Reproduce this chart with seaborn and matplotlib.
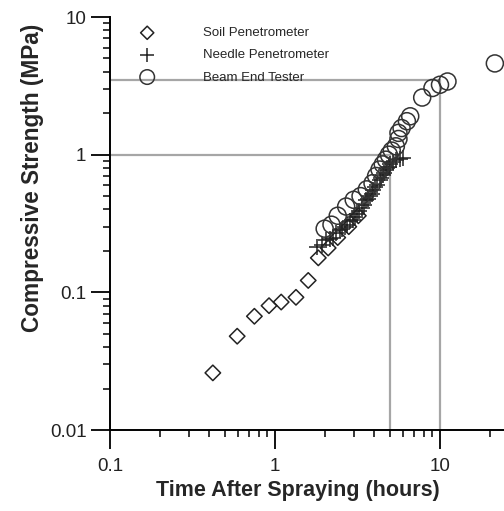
import numpy as np
import pandas as pd
import seaborn as sns
import matplotlib
matplotlib.use("Agg")
import matplotlib.pyplot as plt
from matplotlib.ticker import LogLocator, FuncFormatter, NullFormatter

# ---- data ----
soil_x = [0.42, 0.59, 0.75, 0.92, 1.09, 1.34, 1.59, 1.83, 2.1, 2.4, 2.8, 3.2]
soil_y = [0.026, 0.048, 0.067, 0.080, 0.085, 0.092, 0.122, 0.178, 0.21, 0.25, 0.30, 0.36]

needle_x = [1.80, 1.92, 2.05, 2.15, 2.25, 2.35, 2.47, 2.55, 2.65, 2.75, 2.85, 2.97,
            3.05, 3.15, 3.25, 3.35, 3.45, 3.58, 3.65, 3.75, 3.85, 3.95, 4.05, 4.15,
            4.30, 4.40, 4.50, 4.60, 4.70, 4.80, 4.90, 5.00, 5.20, 5.40, 5.70, 6.00]
needle_y = [0.215, 0.22, 0.24, 0.245, 0.25, 0.27, 0.285, 0.29, 0.30, 0.31, 0.33, 0.337,
            0.35, 0.37, 0.39, 0.41, 0.43, 0.47, 0.48, 0.50, 0.52, 0.55, 0.58, 0.60,
            0.66, 0.68, 0.71, 0.74, 0.77, 0.80, 0.82, 0.85, 0.88, 0.91, 0.93, 0.95]

beam_x = [2.0, 2.2, 2.4, 2.7, 3.0, 3.3, 3.6, 3.9, 4.1, 4.3, 4.5, 4.7, 4.9, 5.1,
          5.4, 5.6, 5.6, 5.85, 6.3, 6.6, 7.8, 9.0, 10.0, 11.1, 21.5]
beam_y = [0.29, 0.31, 0.36, 0.42, 0.47, 0.50, 0.56, 0.62, 0.70, 0.78, 0.85, 0.92, 1.0, 1.07,
          1.15, 1.3, 1.44, 1.56, 1.75, 1.9, 2.6, 3.05, 3.22, 3.4, 4.6]

ref_x = [5, 10]
ref_y = [1, 3.5]

labels = ["Soil Penetrometer", "Needle Penetrometer", "Beam End Tester"]

x_major = [0.1, 1, 10]
y_major = [0.01, 0.1, 1, 10]

# ---- style ----
sns.set_style("ticks")
plt.rcParams["font.family"] = ["Liberation Sans", "DejaVu Sans"]

fig = plt.figure(figsize=(5.04, 5.11), dpi=100)
W, H = 504, 511
left_px, bottom_px = 110, 430
top_px = 17
ax_w = 495
ax_h = bottom_px - top_px
ax = fig.add_axes([left_px / W, (H - bottom_px) / H, ax_w / W, ax_h / H])

# reference lines
for rx, ry in zip(ref_x, ref_y):
    ax.plot([0.1, rx], [ry, ry], color="#a6a6a6", lw=1.6, zorder=1)
    ax.plot([rx, rx], [0.01, ry], color="#a6a6a6", lw=1.6, zorder=1)

df_soil = pd.DataFrame({"x": soil_x, "y": soil_y})
df_needle = pd.DataFrame({"x": needle_x, "y": needle_y})
df_beam = pd.DataFrame({"x": beam_x, "y": beam_y})

sns.scatterplot(data=df_soil, x="x", y="y", marker="D", s=62, facecolor="none",
                edgecolor="#222222", linewidth=1.1, ax=ax, label=labels[0], zorder=3)
sns.scatterplot(data=df_needle, x="x", y="y", marker="+", s=130, color="#222222",
                linewidth=1.1, ax=ax, label=labels[1], zorder=3)
sns.scatterplot(data=df_beam, x="x", y="y", marker="o", s=150, facecolor="none",
                edgecolor="#333333", linewidth=1.1, ax=ax, label=labels[2], zorder=3)

ax.set_xscale("log")
ax.set_yscale("log")
ax.set_xlim(0.1, 100)
ax.set_ylim(0.01, 10)

ax.xaxis.set_minor_locator(LogLocator(base=10, subs=np.arange(2, 10)))
ax.yaxis.set_minor_locator(LogLocator(base=10, subs=np.arange(2, 10)))
ax.set_xticks(x_major)
ax.set_yticks(y_major)
fmt = FuncFormatter(lambda v, p: "%g" % v)
ax.xaxis.set_major_formatter(fmt)
ax.yaxis.set_major_formatter(fmt)
ax.xaxis.set_minor_formatter(NullFormatter())
ax.yaxis.set_minor_formatter(NullFormatter())

ax.tick_params(which="major", direction="out", length=14, width=1.3, labelsize=13.5,
               color="black", labelcolor="#222222")
ax.tick_params(axis="x", which="major", pad=6)
ax.tick_params(axis="y", which="major", pad=3)
ax.tick_params(which="minor", direction="out", length=5, width=1.1, color="black")

for s in ["top", "right"]:
    ax.spines[s].set_visible(False)
for s in ["left", "bottom"]:
    ax.spines[s].set_linewidth(1.4)
    ax.spines[s].set_color("black")

ax.set_xlabel("Time After Spraying (hours)", fontsize=15.5, fontweight="bold")
ax.set_ylabel("Compressive Strength (MPa)", fontsize=16.3, fontweight="bold")
ax.xaxis.set_label_coords((298 - left_px) / ax_w, (bottom_px - 480) / ax_h)
ax.yaxis.set_label_coords((44 - left_px) / ax_w, (bottom_px - 178) / ax_h)

leg = ax.legend(loc="upper left", bbox_to_anchor=((134 - left_px) / ax_w, (bottom_px - 27) / ax_h),
                frameon=False, fontsize=9.5, handlelength=2, handletextpad=3.26,
                labelspacing=0.75, borderaxespad=0, borderpad=0)
for h, sz in zip(leg.legend_handles, [45, 110, 110]):
    h.set_sizes([sz])

fig.savefig("out.png", dpi=100)
